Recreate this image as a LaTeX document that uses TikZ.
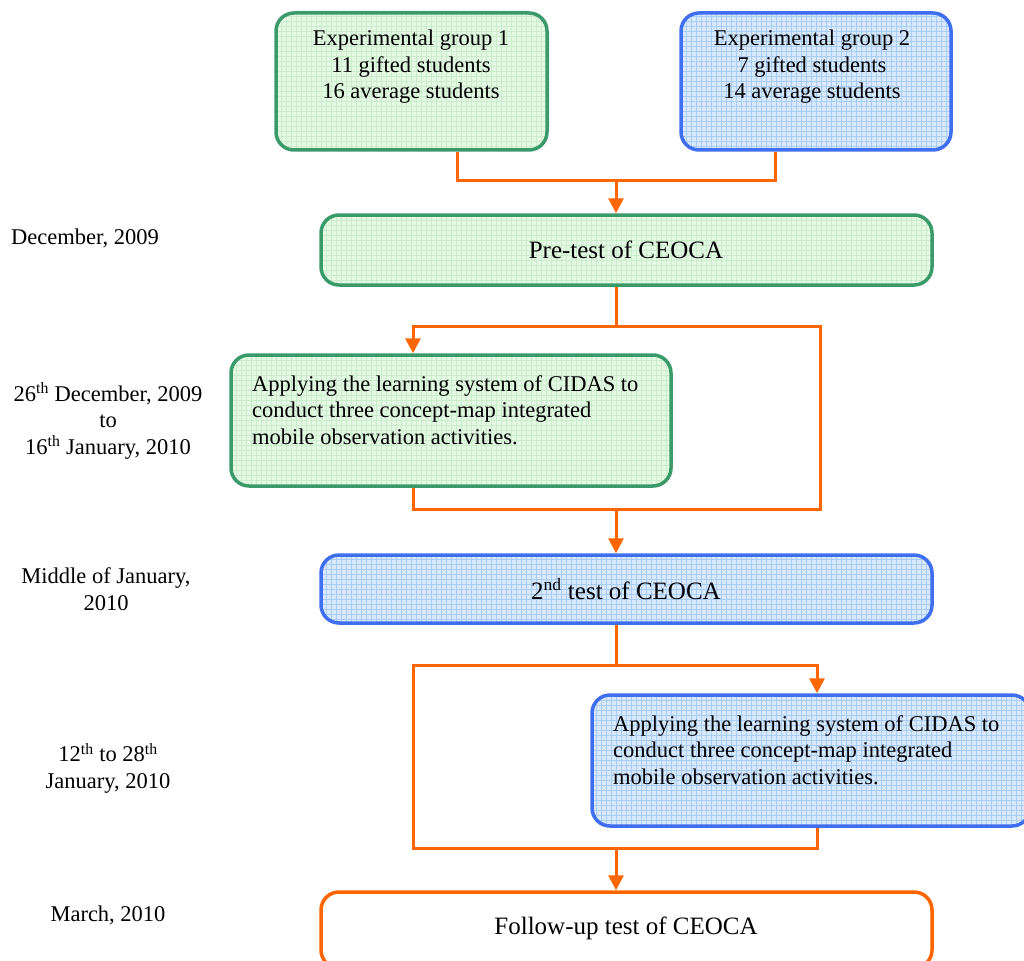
\documentclass[tikz,border=0pt]{standalone}
\usepackage{fontspec}
\setmainfont{Liberation Serif}
\usetikzlibrary{arrows.meta}
\definecolor{gstroke}{HTML}{3A9A6A}
\definecolor{gfill}{HTML}{E4F9E4}
\definecolor{ggrid}{HTML}{CBEDCB}
\definecolor{bstroke}{HTML}{3F6FF0}
\definecolor{bfill}{HTML}{D8E9FB}
\definecolor{bgrid}{HTML}{AACDF4}
\definecolor{orng}{HTML}{FF6600}
\tikzset{
  box/.style={rounded corners=18pt, line width=3.5pt, inner sep=0pt},
  greenbox/.style={box, draw=gstroke, fill=gfill,
    path picture={\draw[ggrid, line width=0.6pt, step=5pt] (path picture bounding box.south west) grid (path picture bounding box.north east);}},
  bluebox/.style={box, draw=bstroke, fill=bfill,
    path picture={\draw[bgrid, line width=0.6pt, step=5pt] (path picture bounding box.south west) grid (path picture bounding box.north east);}},
  orangebox/.style={box, draw=orng, fill=white},
  txt/.style={font=\fontsize{22.5}{26.5}\selectfont, inner sep=0pt},
  bigtxt/.style={font=\fontsize{25}{30}\selectfont, inner sep=0pt},
  conn/.style={draw=orng, line width=3pt},
  arr/.style={conn, -{Triangle[width=15pt,length=15pt]}}
}
\begin{document}
\begin{tikzpicture}[x=1pt,y=-1pt]
\useasboundingbox (0,0) rectangle (1024,960);
\clip (0,0) rectangle (1024,960);
\fill[white] (0,0) rectangle (1024,960);

% boxes
\node[greenbox, minimum width=271pt, minimum height=137pt] (g1) at (411.5,81.5) {};
\node[bluebox, minimum width=270pt, minimum height=137pt] (g2) at (816,81.5) {};
\node[greenbox, minimum width=611pt, minimum height=70pt] (pre) at (626.5,250) {};
\node[greenbox, minimum width=440pt, minimum height=131pt] (a1) at (451,420.5) {};
\node[bluebox, minimum width=611pt, minimum height=68pt] (t2) at (626.5,589) {};
\node[bluebox, minimum width=438pt, minimum height=131pt] (a2) at (811,760.5) {};
\node[orangebox, minimum width=611pt, minimum height=76pt] (fu) at (626.5,930) {};

% box texts
\node[txt, align=center] (g1t) at (411,67) {Experimental group 1\\11 gifted students\\16 average students};
\node[txt, align=center] (g2t) at (812,67) {Experimental group 2\\7 gifted students\\14 average students};
\node[bigtxt] (pret) at (626,250) {Pre-test of CEOCA};
\node[txt, align=left, anchor=west] (a1t) at (252,410) {Applying the learning system of CIDAS to\\conduct three concept-map integrated\\mobile observation activities.};
\node[bigtxt] (t2t) at (626,589) {2\textsuperscript{nd} test of CEOCA};
\node[txt, align=left, anchor=west] (a2t) at (613,750) {Applying the learning system of CIDAS to\\conduct three concept-map integrated\\mobile observation activities.};
\node[bigtxt] (fut) at (626,928) {Follow-up test of CEOCA};

% left labels
\node[txt] (d1) at (85,238) {December, 2009};
\node[txt, align=center] (d2) at (108,421) {26\textsuperscript{th} December, 2009\\to\\16\textsuperscript{th} January, 2010};
\node[txt, align=center] (d3) at (106,589) {Middle of January,\\2010};
\node[txt, align=center] (d4) at (108,768) {12\textsuperscript{th} to 28\textsuperscript{th}\\January, 2010};
\node[txt] (d5) at (108,915) {March, 2010};

% connectors
\coordinate (j1) at (616,180);
\draw[conn] ([xshift=45.5pt]g1.south) |- (j1) -| ([xshift=-41pt]g2.south);
\draw[arr] (j1) -- (j1 |- pre.north);

\coordinate (j2) at (616,326);
\coordinate (r1) at (820,509);
\coordinate (j3) at (616,509);
\draw[conn] (j2 |- pre.south) -- (j2);
\draw[arr] (j2) -| ([xshift=-38pt]a1.north);
\draw[conn] (j2) -| (r1) -- (j3);
\draw[conn] ([xshift=-38pt]a1.south) |- (j3);
\draw[arr] (j3) -- (j3 |- t2.north);

\coordinate (j4) at (616,665);
\coordinate (l2) at (413,848);
\coordinate (j5) at (616,848);
\draw[conn] (j4 |- t2.south) -- (j4);
\draw[arr] (j4) -| ([xshift=6pt]a2.north);
\draw[conn] (j4) -| (l2) -- (j5);
\draw[conn] ([xshift=6pt]a2.south) |- (j5);
\draw[arr] (j5) -- (j5 |- fu.north);
\end{tikzpicture}
\end{document}
